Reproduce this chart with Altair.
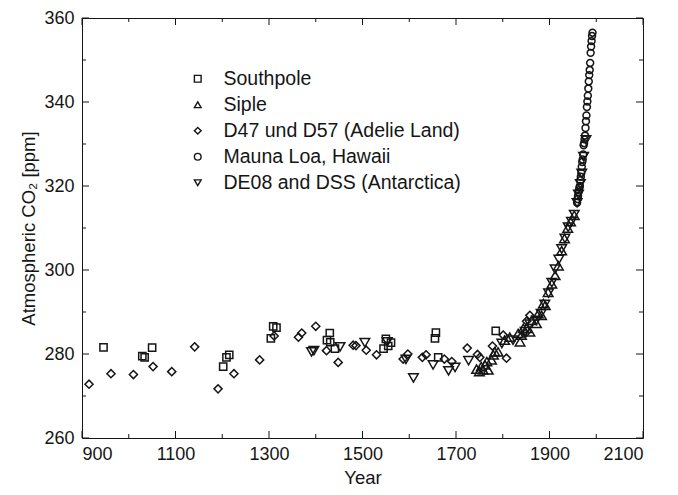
import altair as alt
import pandas as pd

# ---------------- data ----------------
southpole_year = [946, 1029, 1034, 1050, 1202, 1209, 1215, 1304, 1309, 1316, 1424, 1430, 1431, 1441,
                  1545, 1550, 1555, 1561, 1655, 1657, 1662, 1785]
southpole_co2 = [281.6, 279.5, 279.2, 281.5, 277.0, 279.2, 279.8, 283.7, 286.6, 286.3, 283.3, 285.0, 282.8, 281.3,
                 281.3, 283.6, 281.9, 282.7, 283.7, 285.1, 279.2, 285.5]

siple_year = [1744, 1750, 1754, 1758, 1762, 1766, 1769, 1776, 1780, 1783, 1790, 1804, 1815, 1833, 1837, 1840,
              1844, 1851, 1858, 1862, 1872, 1876, 1883, 1887, 1891, 1897, 1905, 1912, 1919, 1926, 1932, 1939,
              1945, 1953]
siple_co2 = [276.4, 275.8, 277.0, 276.2, 277.4, 278.2, 276.2, 278.6, 279.8, 280.5, 280.5, 283.3, 284.0, 284.9,
             282.9, 284.5, 286.1, 286.1, 285.3, 288.0, 287.3, 289.6, 289.2, 292.0, 291.6, 294.7, 296.7, 298.7,
             301.0, 304.6, 307.5, 310.0, 311.5, 313.0]

adelie_year = [915, 962, 1010, 1052, 1092, 1141, 1191, 1225, 1280, 1311, 1363, 1370, 1400, 1423, 1448, 1480,
               1486, 1508, 1530, 1587, 1597, 1628, 1636, 1675, 1691, 1724, 1746, 1751, 1778, 1801, 1808, 1848,
               1851, 1858]
adelie_co2 = [272.8, 275.3, 275.1, 277.0, 275.8, 281.7, 271.7, 275.3, 278.6, 284.3, 284.0, 285.0, 286.6, 280.8,
              278.0, 282.1, 282.0, 280.9, 279.8, 278.8, 280.0, 279.2, 279.8, 278.8, 278.2, 281.4, 279.9, 279.2,
              281.9, 284.5, 279.0, 284.9, 287.8, 289.2]

maunaloa_year = list(range(1959, 1993))
maunaloa_co2 = [316.0, 316.9, 317.6, 318.5, 319.0, 319.6, 320.0, 321.4, 322.2, 323.1, 324.6, 325.7, 326.3,
                327.5, 329.7, 330.2, 331.1, 332.0, 333.8, 335.4, 336.8, 338.8, 340.1, 341.5, 343.2, 344.9,
                346.4, 347.6, 349.3, 351.7, 353.2, 354.5, 355.7, 356.5]

de08_year = [1391, 1396, 1452, 1505, 1553, 1593, 1609, 1651, 1684, 1698, 1727, 1798, 1822, 1848, 1858, 1872,
             1882, 1890, 1898, 1905, 1912, 1920, 1926, 1933, 1940, 1947, 1953, 1959, 1962, 1966, 1969, 1973, 1978]
de08_co2 = [280.5, 280.8, 281.7, 282.7, 282.9, 278.7, 274.3, 277.4, 276.0, 276.8, 278.4, 282.5, 283.3, 285.3,
            287.1, 288.0, 289.6, 291.8, 294.5, 297.0, 300.2, 302.5, 305.0, 307.5, 310.2, 311.5, 313.2, 316.0,
            318.0, 320.5, 323.0, 327.0, 331.0]

series_names = ["Southpole", "Siple", "D47 und D57 (Adelie Land)", "Mauna Loa, Hawaii",
                "DE08 and DSS (Antarctica)"]
series_shapes = ["square", "triangle-up", "diamond", "circle", "triangle-down"]
series_sizes = [52, 92, 66, 48, 92]

x_major = [900, 1100, 1300, 1500, 1700, 1900, 2100]
x_minor = [1000, 1200, 1400, 1600, 1800, 2000]
y_major = [260, 280, 300, 320, 340, 360]
y_minor = [270, 290, 310, 330, 350]

series_years = [southpole_year, siple_year, adelie_year, maunaloa_year, de08_year]
series_vals = [southpole_co2, siple_co2, adelie_co2, maunaloa_co2, de08_co2]

W, H = 561, 420
INK = "#151515"
FONT = "Liberation Sans"

x_scale = alt.Scale(domain=[900, 2100], nice=False, zero=False)
y_scale = alt.Scale(domain=[260, 360], nice=False, zero=False)

x_axis = alt.Axis(values=x_major, ticks=False, domain=False, grid=False, format="d",
                  labelFontSize=18, labelPadding=7, labelColor=INK,
                  title="Year", titleFontSize=18.5, titleFontWeight="normal",
                  titleColor=INK, titlePadding=5)
y_axis = alt.Axis(values=y_major, ticks=False, domain=False, grid=False, format="d",
                  labelFontSize=18, labelPadding=8, labelColor=INK,
                  title="Atmospheric CO\u2082 [ppm]", titleFontSize=18.5,
                  titleFontWeight="normal", titleColor=INK, titlePadding=5)
legend = alt.Legend(title=None, orient="none", legendX=106, legendY=51,
                    labelFontSize=19.5, labelColor=INK, labelFont=FONT, labelLimit=0,
                    symbolSize=45, symbolStrokeWidth=1.4,
                    symbolStrokeColor=INK, symbolFillColor="transparent",
                    rowPadding=5, labelOffset=16, padding=0)
shape_scale = alt.Scale(domain=series_names, range=series_shapes)

layers = []
for name, yrs, vals, sz in zip(series_names, series_years, series_vals, series_sizes):
    d = pd.DataFrame({"year": yrs, "co2": vals, "series": name})
    layers.append(
        alt.Chart(d).mark_point(filled=False, strokeWidth=1.5, opacity=1, color=INK, size=sz).encode(
            x=alt.X("year:Q", scale=x_scale, axis=x_axis),
            y=alt.Y("co2:Q", scale=y_scale, axis=y_axis),
            shape=alt.Shape("series:N", scale=shape_scale, legend=legend),
        )
    )

def xticks(vals, y0, y1):
    return alt.Chart(pd.DataFrame({"t": vals})).mark_rule(color=INK, strokeWidth=1).encode(
        x=alt.X("t:Q", scale=x_scale, axis=x_axis), y=alt.value(y0), y2=alt.value(y1))

def yticks(vals, x0, x1):
    return alt.Chart(pd.DataFrame({"t": vals})).mark_rule(color=INK, strokeWidth=1).encode(
        y=alt.Y("t:Q", scale=y_scale, axis=y_axis), x=alt.value(x0), x2=alt.value(x1))

MAJ, MIN = 7, 4
layers += [
    xticks(x_major, H, H - MAJ), xticks(x_minor, H, H - MIN),
    xticks(x_major, 0, MAJ), xticks(x_minor, 0, MIN),
    yticks(y_major, 0, MAJ), yticks(y_minor, 0, MIN),
    yticks(y_major, W, W - MAJ), yticks(y_minor, W, W - MIN),
]

chart = alt.layer(*layers).properties(
    width=W, height=H,
    autosize=alt.AutoSizeParams(type="none"),
    padding={"left": 74, "top": 10, "right": 20, "bottom": 55},
).configure(font=FONT).configure_view(stroke=INK, strokeWidth=1)

chart.save("out.html", embed_options={"renderer": "svg", "actions": False})
